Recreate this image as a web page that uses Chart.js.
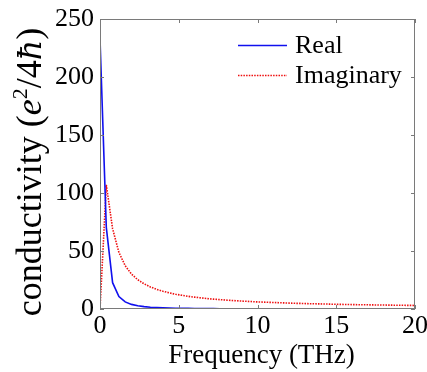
<!DOCTYPE html>
<html>
<head>
<meta charset="utf-8">
<script src="https://cdn.jsdelivr.net/npm/chart.js@4.4.1/dist/chart.umd.min.js"></script>
<style>
  html, body { margin: 0; padding: 0; background: #fff; }
  #wrap { width: 427px; height: 372px; }
</style>
</head>
<body>
<div id="wrap"><canvas id="c" width="427" height="372"></canvas></div>
<script>
// Frequency grid (THz)
const frequency = [0, 0.4, 0.8, 1.2, 1.6, 2, 2.4, 2.8, 3.2, 3.6, 4, 4.4, 4.8, 5.2, 5.6, 6, 6.4, 6.8, 7.2, 7.6,
  8, 8.4, 8.8, 9.2, 9.6, 10, 10.4, 10.8, 11.2, 11.6, 12, 12.4, 12.8, 13.2, 13.6, 14, 14.4, 14.8, 15.2, 15.6,
  16, 16.4, 16.8, 17.2, 17.6, 18, 18.4, 18.8, 19.2, 19.6, 20];

// Real part of the conductivity (e^2/4ħ)
const realPart = [233, 70.4, 22.7, 10.7, 6.14, 3.97, 2.77, 2.04, 1.57, 1.24, 1.00, 0.83, 0.70, 0.60, 0.51, 0.45,
  0.39, 0.35, 0.31, 0.28, 0.25, 0.23, 0.21, 0.19, 0.18, 0.16, 0.15, 0.14, 0.13, 0.12, 0.11, 0.11, 0.10, 0.09,
  0.09, 0.08, 0.08, 0.07, 0.07, 0.07, 0.06, 0.06, 0.06, 0.06, 0.05, 0.05, 0.05, 0.05, 0.04, 0.04, 0.04];

// Imaginary part of the conductivity (e^2/4ħ)
const imagPart = [0, 107, 69.2, 48.8, 37.3, 30.1, 25.2, 21.7, 19.0, 16.9, 15.3, 13.9, 12.7, 11.8, 10.9, 10.2,
  9.6, 9.0, 8.5, 8.1, 7.7, 7.3, 7.0, 6.7, 6.4, 6.1, 5.9, 5.7, 5.5, 5.3, 5.1, 4.9, 4.8, 4.6, 4.5, 4.4, 4.3,
  4.1, 4.0, 3.9, 3.8, 3.7, 3.65, 3.56, 3.48, 3.41, 3.33, 3.26, 3.19, 3.13, 3.07];

const xTicks = [0, 5, 10, 15, 20];
const yTicks = [0, 50, 100, 150, 200, 250];
const seriesNames = ['Real', 'Imaginary'];

const SERIF = '"Liberation Serif", "Times New Roman", serif';
const BLUE = '#1010ee';
const RED = '#ee1010';
const FRAME = '#7a7a7a';

const pairs = (ys) => frequency.map((f, i) => ({ x: f, y: ys[i] }));

// Boxed frame with inward tick marks on all four sides
const framePlugin = {
  id: 'frame',
  afterDraw(chart) {
    const { ctx, chartArea: a, scales } = chart;
    ctx.save();
    ctx.strokeStyle = FRAME;
    ctx.lineWidth = 1;
    ctx.strokeRect(a.left + 0.5, a.top + 0.5, a.right - a.left - 1, a.bottom - a.top - 1);
    const len = 4;
    ctx.beginPath();
    xTicks.forEach(v => {
      const px = Math.round(scales.x.getPixelForValue(v)) + 0.5;
      ctx.moveTo(px, a.bottom); ctx.lineTo(px, a.bottom - len);
      ctx.moveTo(px, a.top); ctx.lineTo(px, a.top + len);
    });
    yTicks.forEach(v => {
      const py = Math.round(scales.y.getPixelForValue(v)) + 0.5;
      ctx.moveTo(a.left, py); ctx.lineTo(a.left + len, py);
      ctx.moveTo(a.right, py); ctx.lineTo(a.right - len, py);
    });
    ctx.stroke();
    ctx.restore();
  }
};

// Legend in the upper right of the plot
const legendPlugin = {
  id: 'innerLegend',
  afterDraw(chart) {
    const { ctx } = chart;
    const rows = [
      { label: seriesNames[0], color: BLUE, dash: [], y: 45 },
      { label: seriesNames[1], color: RED, dash: [1.5, 1.2], y: 75 }
    ];
    ctx.save();
    ctx.font = '26px ' + SERIF;
    ctx.textBaseline = 'middle';
    ctx.fillStyle = '#000';
    rows.forEach(r => {
      ctx.strokeStyle = r.color;
      ctx.lineWidth = 1.6;
      ctx.setLineDash(r.dash);
      ctx.beginPath();
      ctx.moveTo(238, r.y + 0.5);
      ctx.lineTo(287, r.y + 0.5);
      ctx.stroke();
      ctx.fillText(r.label, 295, r.y + 1);
    });
    ctx.restore();
  }
};

// Axis titles (the y title mixes upright and italic runs)
const titlePlugin = {
  id: 'axisTitles',
  afterDraw(chart) {
    const { ctx, chartArea: a } = chart;
    ctx.save();
    ctx.fillStyle = '#000';
    ctx.font = '27px ' + SERIF;
    ctx.textAlign = 'center';
    ctx.textBaseline = 'alphabetic';
    ctx.fillText('Frequency (THz)', (a.left + a.right) / 2 + 4, 363);

    const size = 36;
    const runs = [
      { t: 'conductivity (', f: size + 'px ' + SERIF, dy: 0 },
      { t: 'e', f: 'italic ' + size + 'px ' + SERIF, dy: 0 },
      { t: '2', f: Math.round(size * 0.6) + 'px ' + SERIF, dy: -size * 0.38 },
      { t: '/4', f: size + 'px ' + SERIF, dy: 0 },
      { t: 'ħ', f: 'italic ' + Math.round(size * 0.9) + 'px "DejaVu Serif"', dy: 0 },
      { t: ')', f: size + 'px ' + SERIF, dy: 0 }
    ];
    let total = 0;
    runs.forEach(r => { ctx.font = r.f; r.w = ctx.measureText(r.t).width; total += r.w; });
    ctx.translate(41, 172);
    ctx.rotate(-Math.PI / 2);
    ctx.textAlign = 'left';
    let x = -total / 2;
    runs.forEach(r => { ctx.font = r.f; ctx.fillText(r.t, x, r.dy); x += r.w; });
    ctx.restore();
  }
};

new Chart(document.getElementById('c'), {
  type: 'line',
  data: {
    datasets: [
      {
        label: seriesNames[0],
        data: pairs(realPart),
        borderColor: BLUE,
        borderWidth: 1.6,
        pointRadius: 0,
        tension: 0,
        fill: false
      },
      {
        label: seriesNames[1],
        data: pairs(imagPart),
        borderColor: RED,
        borderWidth: 1.6,
        borderDash: [1.5, 1.2],
        pointRadius: 0,
        tension: 0,
        fill: false
      }
    ]
  },
  options: {
    responsive: false,
    animation: false,
    devicePixelRatio: 1,
    layout: { padding: { top: 19, right: 12, left: 0, bottom: 0 } },
    plugins: { legend: { display: false }, tooltip: { enabled: false } },
    scales: {
      x: {
        type: 'linear',
        min: 0, max: 20,
        afterBuildTicks: s => { s.ticks = xTicks.map(v => ({ value: v })); },
        afterFit: s => { s.height = 63; s.paddingRight = 0; s.paddingLeft = 0; },
        grid: { display: false, drawTicks: false },
        border: { display: false },
        ticks: { color: '#000', font: { family: SERIF, size: 26 }, padding: 2, maxRotation: 0 }
      },
      y: {
        type: 'linear',
        min: 0, max: 250,
        afterBuildTicks: s => { s.ticks = yTicks.map(v => ({ value: v })); },
        afterFit: s => { s.width = 100; s.paddingTop = 0; s.paddingBottom = 0; },
        grid: { display: false, drawTicks: false },
        border: { display: false },
        ticks: { color: '#000', font: { family: SERIF, size: 26 }, padding: 6 }
      }
    }
  },
  plugins: [framePlugin, legendPlugin, titlePlugin]
});
</script>
</body>
</html>
